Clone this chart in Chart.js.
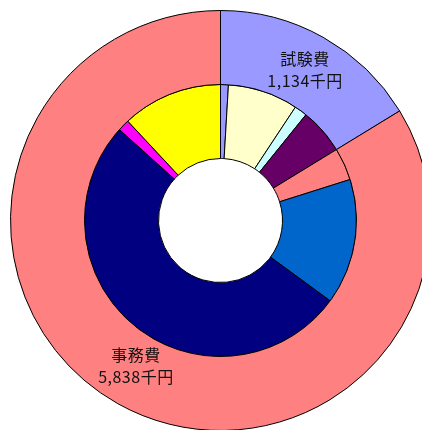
<!DOCTYPE html>
<html>
<head>
<meta charset="utf-8">
<script src="https://cdn.jsdelivr.net/npm/chart.js@4/dist/chart.umd.min.js"></script>
<style>
    html, body { margin: 0; padding: 0; background: #fff; overflow: hidden; }
    #wrap { position: absolute; left: 10px; top: 10px; width: 421px; height: 421px; }
</style>
</head>
<body>
<div id="wrap"><canvas id="chart"></canvas></div>
<script>
// outer ring: main categories (千円)
const outerLabels = ['試験費', '事務費'];
const outerValues = [1134, 5838];
const outerColors = ['#9999FF', '#FF8080'];

// inner ring: breakdown, clockwise from top
const innerValues = [65, 583, 106, 380, 269, 1042, 3597, 97, 833];
const innerColors = ['#9999FF', '#FFFFCC', '#CCFFFF', '#660066', '#FF8080',
                     '#0066CC', '#000080', '#FF00FF', '#FFFF00'];

const fmt = v => v.toLocaleString('en-US') + '千円';

// draw the outer labels at the centre of each outer arc
const ringLabels = {
    id: 'ringLabels',
    afterDraw(chart) {
        const ctx = chart.ctx;
        const arcs = chart.getDatasetMeta(0).data;
        ctx.save();
        ctx.fillStyle = '#111';
        ctx.font = '16px "Noto Sans CJK JP", sans-serif';
        ctx.textAlign = 'center';
        ctx.textBaseline = 'middle';
        if ('letterSpacing' in ctx) ctx.letterSpacing = '0.5px';
        arcs.forEach((arc, i) => {
            const p = arc.tooltipPosition();
            const y = i === 0 ? p.y : p.y - 5;
            ctx.fillText(outerLabels[i], p.x, y - 11);
            ctx.fillText(fmt(outerValues[i]), p.x, y + 11);
        });
        ctx.restore();
    }
};

new Chart(document.getElementById('chart').getContext('2d'), {
    type: 'doughnut',
    data: {
        labels: outerLabels,
        datasets: [
            {
                data: outerValues,
                backgroundColor: outerColors,
                borderColor: '#000',
                borderWidth: 1
            },
            {
                data: innerValues,
                backgroundColor: innerColors,
                borderColor: '#000',
                borderWidth: 1
            }
        ]
    },
    options: {
        responsive: true,
        maintainAspectRatio: false,
        animation: false,
        cutout: 62,
        layout: { padding: 0 },
        plugins: {
            legend: { display: false },
            tooltip: { enabled: false }
        }
    },
    plugins: [ringLabels]
});
</script>
</body>
</html>
